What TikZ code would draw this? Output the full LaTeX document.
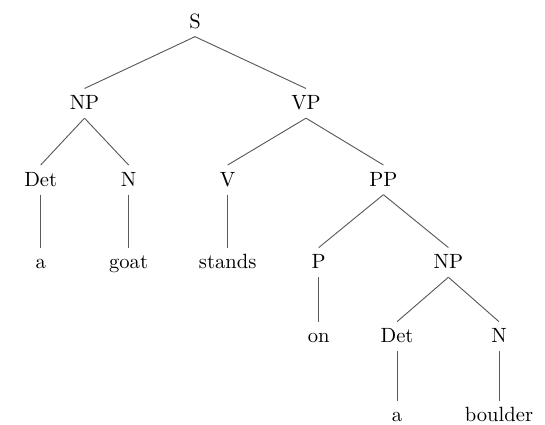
\documentclass[tikz,border=0pt]{standalone}
\begin{document}
\begin{tikzpicture}[x=0.4854pt,y=-0.4854pt,
  lbl/.style={anchor=base,inner xsep=2pt,inner ysep=3pt,text height=7pt,text depth=1pt,font=\normalsize},
  edge/.style={draw=black!65,line width=0.45pt}]
\useasboundingbox (0,0) rectangle (545,424);
\node[lbl] (S) at (195,28) {S};
\node[lbl] (NP) at (84.5,109.5) {NP};
\node[lbl] (VP) at (306,109.5) {VP};
\node[lbl] (Det) at (40.7,186) {Det};
\node[lbl] (N) at (128.6,186) {N};
\node[lbl] (V) at (227.7,186) {V};
\node[lbl] (PP) at (383.4,186) {PP};
\node[lbl] (a) at (40.7,268.6) {a};
\node[lbl] (goat) at (128.6,268.6) {goat};
\node[lbl] (stands) at (227.7,268.6) {stands};
\node[lbl] (P) at (318.7,268.6) {P};
\node[lbl] (NPb) at (448.4,268.6) {NP};
\node[lbl] (on) at (318.7,342.7) {on};
\node[lbl] (Detb) at (397,342.7) {Det};
\node[lbl] (Nb) at (499,342.7) {N};
\node[lbl] (ab) at (397,421.7) {a};
\node[lbl] (boulder) at (499,421.7) {boulder};
\path[edge] (S.south) -- (NP.north);
\path[edge] (S.south) -- (VP.north);
\path[edge] (NP.south) -- (Det.north);
\path[edge] (NP.south) -- (N.north);
\path[edge] (VP.south) -- (V.north);
\path[edge] (VP.south) -- (PP.north);
\path[edge] (Det.south) -- (a.north);
\path[edge] (N.south) -- (goat.north);
\path[edge] (V.south) -- (stands.north);
\path[edge] (PP.south) -- (P.north);
\path[edge] (PP.south) -- (NPb.north);
\path[edge] (P.south) -- (on.north);
\path[edge] (NPb.south) -- (Detb.north);
\path[edge] (NPb.south) -- (Nb.north);
\path[edge] (Detb.south) -- (ab.north);
\path[edge] (Nb.south) -- (boulder.north);
\end{tikzpicture}
\end{document}
